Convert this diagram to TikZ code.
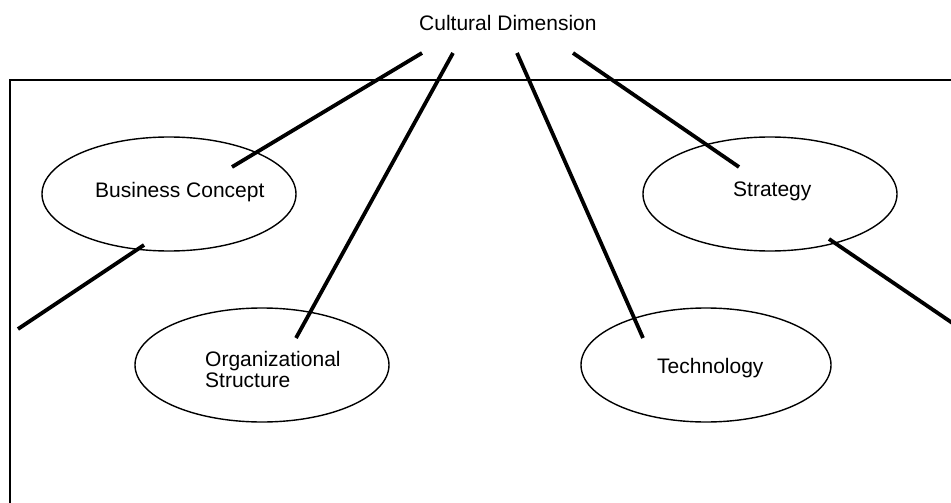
\documentclass[tikz,border=0pt]{standalone}
\usepackage{fontspec}
\setmainfont{Liberation Sans}
\usetikzlibrary{shapes.geometric}
\begin{document}
\begin{tikzpicture}[x=1pt,y=-1pt,
  oval/.style={draw=black, line width=1.4pt, ellipse, minimum width=254pt, minimum height=114pt, inner sep=0pt, fill=white},
  lbl/.style={font=\fontsize{21}{21}\selectfont, inner sep=0pt, anchor=base west, align=left},
  spoke/.style={draw=black, line width=3.8pt}
]
\useasboundingbox (0,0) rectangle (951,503);
\fill[white] (0,0) rectangle (951,503);
\clip (0,0) rectangle (951,503);
% frame
\draw[line width=1.5pt] (10,530) -- (10,80) -- (980,80);
% ellipses
\node[oval] (bc) at (169,194) {};
\node[oval] (st) at (770,194) {};
\node[oval] (os) at (262,365) {};
\node[oval, minimum width=250pt] (te) at (706,365) {};
% labels
\node[lbl] (cd) at (419,31) {Cultural Dimension};
\node[lbl] (bct) at (95,197) {Business Concept};
\node[lbl] (stt) at (733,196) {Strategy};
\node[lbl] (tet) at (657,373) {Technology};
\node[lbl] (ost) at (205,387) {Organizational\\Structure};
% connector end points
\coordinate (c1) at (422,53);
\coordinate (c2) at (453,53);
\coordinate (c3) at (517,53);
\coordinate (c4) at (573,53);
\coordinate (e1) at (232,167);
\coordinate (e2) at (296,338);
\coordinate (e3) at (643,338);
\coordinate (e4) at (739,167);
\coordinate (s1) at (144,245);
\coordinate (s2) at (18,329);
\coordinate (t1) at (829,239);
\coordinate (t2) at (970,335);
% connectors
\draw[spoke] (c1) -- (e1);
\draw[spoke] (c2) -- (e2);
\draw[spoke] (c3) -- (e3);
\draw[spoke] (c4) -- (e4);
\draw[spoke] (s1) -- (s2);
\draw[spoke] (t1) -- (t2);
\end{tikzpicture}
\end{document}
